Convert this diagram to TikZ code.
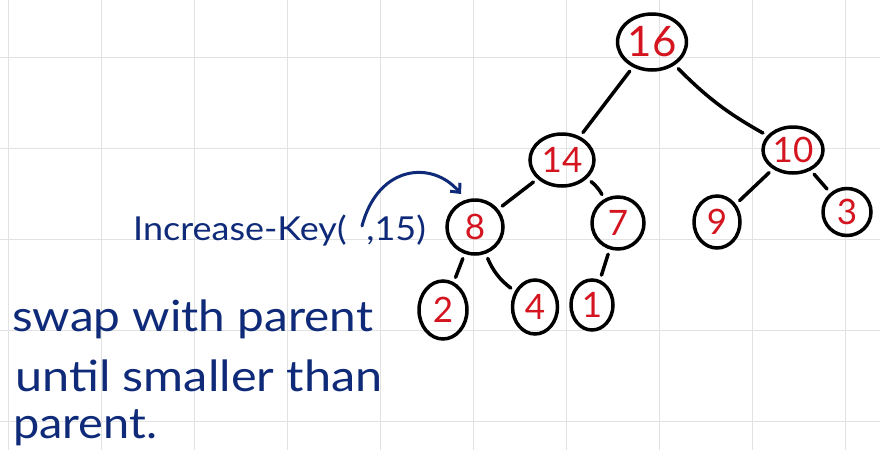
\documentclass[tikz,border=0pt]{standalone}
\usepackage{fontspec}
\setmainfont{Lato}
\usetikzlibrary{shapes.geometric,arrows.meta}
\definecolor{inkred}{HTML}{D4141F}
\definecolor{inknavy}{HTML}{0E2A78}
\definecolor{gridgray}{HTML}{E2E2E2}
\newcommand{\widetext}[2]{\scalebox{#1}[1]{#2}}
\begin{document}
\begin{tikzpicture}[x=1pt,y=-1pt,
  gridline/.style={draw=gridgray, line width=0.9pt},
  heapnode/.style={ellipse, draw=black, line width=3.5pt, inner sep=0pt, text=inkred,
    font=\fontsize{35}{35}\selectfont},
  treeedge/.style={draw=black, line width=3.5pt, line cap=round, shorten <=5pt, shorten >=5pt},
  note/.style={text=inknavy, anchor=base west, inner sep=0pt, font=\fontsize{43}{43}\selectfont},
  callnote/.style={text=inknavy, anchor=base west, inner sep=0pt, font=\fontsize{33}{33}\selectfont},
  callarrow/.style={draw=inknavy, line width=3pt, line cap=round, -{Straight Barb[length=7pt,width=13pt,line width=3pt]}}
]
\useasboundingbox (0,0) rectangle (880,450);
\fill[white] (0,0) rectangle (880,450);
\foreach \gx in {8,101,194,287,380,473,566,659,752,845} \draw[gridline] (\gx,0) -- (\gx,450);
\foreach \gy in {57,148,239,330,421} \draw[gridline] (0,\gy) -- (880,\gy);

% nodes
\node[heapnode, minimum width=60pt, minimum height=56pt, font=\fontsize{42}{42}\selectfont] (n16) at (652,42) {16};
\node[heapnode, minimum width=64pt, minimum height=52pt] (n14) at (562,160) {14};
\node[heapnode, minimum width=60pt, minimum height=46pt] (n10) at (793,150) {10};
\node[heapnode, minimum width=56pt, minimum height=54pt] (n8) at (475,227) {8};
\node[heapnode, minimum width=52pt, minimum height=52pt] (n7) at (618,223) {7};
\node[heapnode, minimum width=46pt, minimum height=52pt] (n9) at (717,222) {9};
\node[heapnode, minimum width=48pt, minimum height=47pt] (n3) at (847,212) {3};
\node[heapnode, minimum width=48pt, minimum height=58pt] (n2) at (443,310) {2};
\node[heapnode, minimum width=45pt, minimum height=54pt] (n4) at (535,307) {4};
\node[heapnode, minimum width=42pt, minimum height=50pt] (n1) at (592,305) {1};

% edges
\draw[treeedge] (n16) -- (n14);
\draw[treeedge] (n16) to[bend right=8] (n10);
\draw[treeedge] (n14) -- (n8);
\draw[treeedge] (n14) to[bend left=12] (n7);
\draw[treeedge] (n10) -- (n9);
\draw[treeedge] (n10) -- (n3);
\draw[treeedge] (n8) -- (n2);
\draw[treeedge] (n8) to[bend right=15] (n4);
\draw[treeedge] (n7) -- (n1);

% texts
\node[callnote] (call) at (133,240) {\widetext{1.09}{Increase-Key(\hspace{0.55em},15)}};
\coordinate (argstart) at (362,226);
\coordinate (argend) at (461,194);
\draw[callarrow] (argstart) .. controls (378,165) and (432,160) .. (argend);

\node[note] (line1) at (12,331) {\widetext{1.11}{swap with parent}};
\node[note] (line2) at (15,391) {\widetext{1.13}{until smaller than}};
\node[note] (line3) at (13,438) {\widetext{1.09}{parent.}};
\end{tikzpicture}
\end{document}
